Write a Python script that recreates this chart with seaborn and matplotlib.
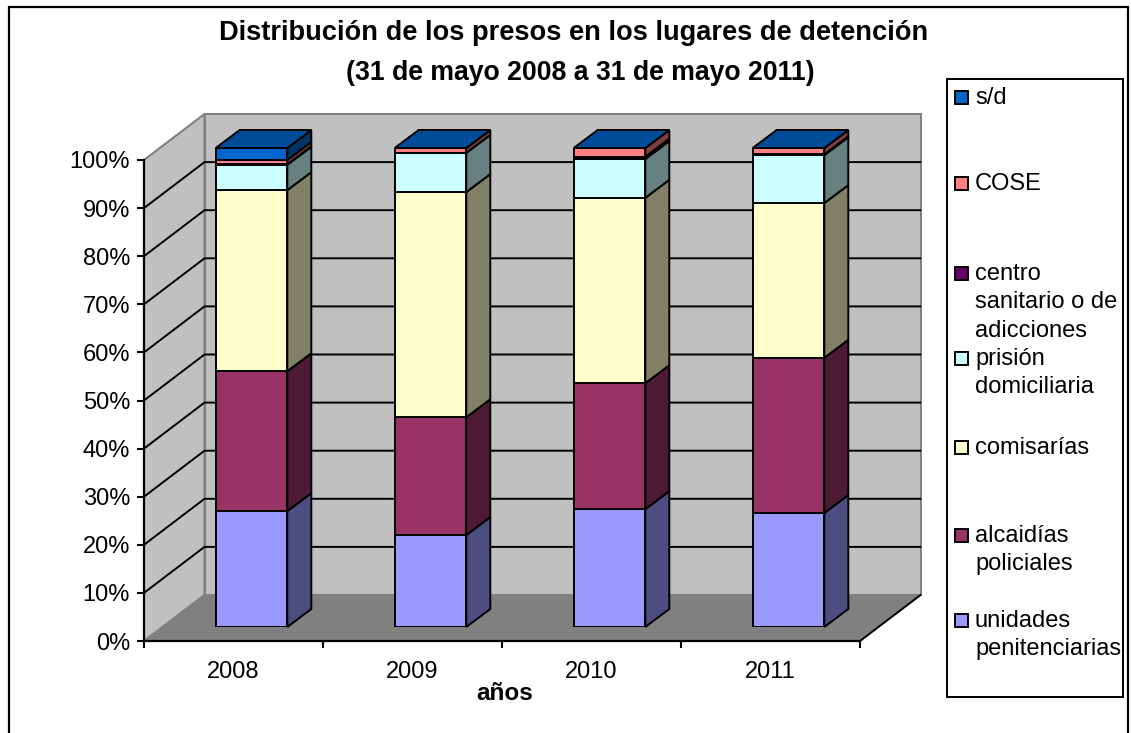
"""Distribucion de los presos: Excel style 3D stacked columns with seaborn."""
import numpy as np
import matplotlib
matplotlib.use("Agg")
import matplotlib.pyplot as plt
from matplotlib.patches import Polygon, Rectangle
import seaborn as sns

YEARS = ["2008", "2009", "2010", "2011"]
UNIDADES = [24.2, 19.2, 24.6, 23.8]
ALCAIDIAS = [29.2, 24.6, 26.3, 32.4]
COMISARIAS = [37.8, 47.0, 38.7, 32.3]
PRISION = [5.3, 8.2, 8.1, 10.0]
CENTRO = [0.1, 0.0, 0.5, 0.2]
COSE = [0.9, 1.0, 1.8, 1.3]
SD = [2.5, 0.0, 0.0, 0.0]

SERIES = [UNIDADES, ALCAIDIAS, COMISARIAS, PRISION, CENTRO, COSE, SD]
LABELS = ["unidades\npenitenciarias", "alcaidías\npoliciales", "comisarías",
          "prisión\ndomiciliaria", "centro\nsanitario o de\nadicciones", "COSE", "s/d"]
COLORS = ["#9999FF", "#993366", "#FFFFCC", "#CCFFFF", "#660066", "#FF8080", "#0066CC"]
SIDES = ["#4D4D80", "#4D1A33", "#808066", "#668080", "#330033", "#804040", "#003366"]
TOP_COLOR = "#004C99"
LEGEND_Y = [620, 535, 447, 358, 273, 183, 97]

W, H = 1131, 733


def px_axes(fig, left, right, bottom, top):
    return fig.add_axes([left / W, 1 - bottom / H, (right - left) / W, (bottom - top) / H])


def draw_walls(ax, dx, dy):
    """Back wall, side wall and floor on the front plane axes."""
    x0, x1 = -0.5, 3.5
    wall = dict(facecolor="#C0C0C0", edgecolor="#808080", linewidth=1.5, clip_on=False, zorder=1)
    ax.add_patch(Polygon([(x0 + dx, dy), (x1 + dx, dy), (x1 + dx, 100 + dy), (x0 + dx, 100 + dy)], **wall))
    ax.add_patch(Polygon([(x0, 0), (x0 + dx, dy), (x0 + dx, 100 + dy), (x0, 100)], **wall))
    ax.add_patch(Polygon([(x0, 0), (x1, 0), (x1 + dx, dy), (x0 + dx, dy)], facecolor="#808080",
                         edgecolor="#808080", linewidth=1, clip_on=False, zorder=1))
    for pct in range(10, 100, 10):
        ax.plot([x0, x0 + dx, x1 + dx], [pct, pct + dy, pct + dy], color="black", lw=1.4,
                clip_on=False, zorder=2, solid_joinstyle="miter")
    ax.plot([x1, x1 + dx], [0, dy], color="black", lw=1.4, clip_on=False, zorder=2)


def draw_sides(ax, half, dx, dy):
    """Right side of every segment and the top of every column."""
    for i in range(len(YEARS)):
        right = i + half
        level = 0.0
        for vals, shade in zip(SERIES, SIDES):
            low, level = level, level + vals[i]
            ax.add_patch(Polygon([(right, low), (right + dx, low + dy), (right + dx, level + dy), (right, level)],
                                 facecolor=shade, edgecolor="black", linewidth=1.4,
                                 clip_on=False, joinstyle="miter", zorder=3))
        ax.add_patch(Polygon([(right - 2 * half, level), (right, level), (right + dx, level + dy),
                              (right - 2 * half + dx, level + dy)],
                             facecolor=TOP_COLOR, edgecolor="black", linewidth=1.4,
                             clip_on=False, joinstyle="miter", zorder=3))


def main():
    sns.set_theme(style="white")
    plt.rcParams["font.family"] = ["Liberation Sans", "DejaVu Sans"]
    plt.rcParams["text.color"] = "black"

    fig = plt.figure(figsize=(W / 100, H / 100), dpi=100, facecolor="white")

    # frame, legend and titles live in one full figure pixel axes
    bg = fig.add_axes([0, 0, 1, 1], zorder=0)
    bg.set_xlim(0, W)
    bg.set_ylim(H, 0)
    bg.axis("off")
    bg.add_patch(Rectangle((9, 7), 1119, 760, facecolor="white", edgecolor="black", lw=1.6, clip_on=True))
    bg.add_patch(Rectangle((947, 79), 176, 618, facecolor="white", edgecolor="black", lw=1.4))
    for label, color, y in zip(LABELS, COLORS, LEGEND_Y):
        bg.add_patch(Rectangle((955, y - 6.5), 13, 13, facecolor=color, edgecolor="black", lw=1.4))
        bg.text(975, y - 10, label, fontsize=17, va="top", ha="left", linespacing=1.37)
    bg.text(573.5, 32.5, "Distribución de los presos en los lugares de detención",
            fontsize=19.6, fontweight="bold", ha="center", va="center")
    bg.text(580, 72.5, "(31 de mayo 2008 a 31 de mayo 2011)",
            fontsize=19.2, fontweight="bold", ha="center", va="center")

    # front plane with the real axes, ticks and labels
    ax = px_axes(fig, 144, 860, 641, 160)
    ax.set_zorder(1)
    ax.patch.set_visible(False)
    ax.set_xlim(-0.5, 3.5)
    ax.set_ylim(0, 100)
    draw_walls(ax, 60.5 / 179, 46 / 4.81)
    ax.set_yticks(np.arange(0, 101, 10), [f"{p}%" for p in range(0, 101, 10)])
    ax.set_xticks(np.arange(-0.5, 4, 1), [])
    ax.set_xticks(range(len(YEARS)), YEARS, minor=True)
    ax.tick_params(axis="x", which="major", direction="out", length=5, width=1.5, color="black", bottom=True)
    ax.tick_params(axis="x", which="minor", length=0, labelsize=17, pad=14.5, labelcolor="black", bottom=True)
    ax.tick_params(axis="y", direction="out", length=5, width=1.5, color="black", left=True,
                   labelsize=17, pad=5, labelcolor="black")
    ax.set_xlabel("años", fontsize=17.5, fontweight="bold", color="black", labelpad=-0.5, x=0.503)
    sns.despine(ax=ax, top=True, right=True)
    for side in ["left", "bottom"]:
        ax.spines[side].set_color("black")
        ax.spines[side].set_linewidth(1.6)
        ax.spines[side].set_zorder(4)

    # columns sit a little behind the front plane
    ax_bars = px_axes(fig, 162, 878, 627, 148)
    ax_bars.set_zorder(2)
    ax_bars.patch.set_visible(False)
    bottom = np.zeros(len(YEARS))
    for vals, color in zip(SERIES, COLORS):
        sns.barplot(x=YEARS, y=vals, bottom=bottom, color=color, saturation=1, width=0.4,
                    edgecolor="black", linewidth=1.4, errorbar=None, ax=ax_bars, zorder=4)
        bottom = bottom + np.array(vals)
    ax_bars.set_xlim(-0.5, 3.5)
    ax_bars.set_ylim(0, 100)
    draw_sides(ax_bars, 0.2, 24 / 179, 18 / 4.79)
    ax_bars.axis("off")

    fig.savefig("out.png", dpi=100)
    plt.close(fig)


if __name__ == "__main__":
    main()
